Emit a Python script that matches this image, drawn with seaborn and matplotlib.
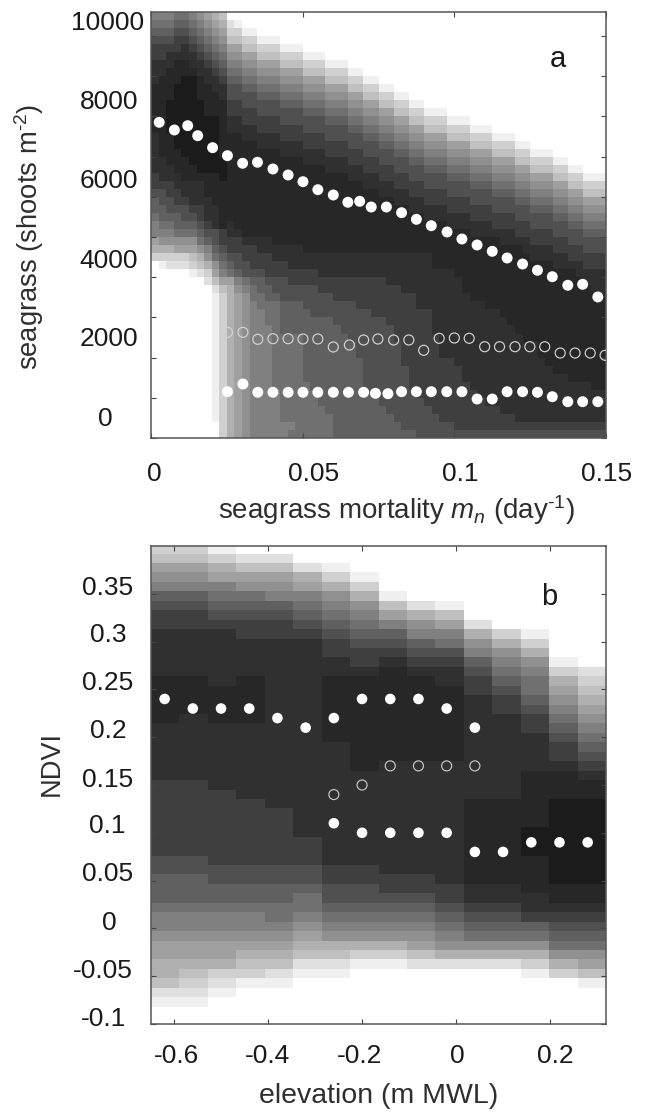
import numpy as np
import matplotlib
matplotlib.use("Agg")
import matplotlib.pyplot as plt
from matplotlib.transforms import ScaledTranslation
import seaborn as sns

# panel a: grey level per cell (0 white .. f darkest), one string per row, top row first
field_a = [
    "8889987654 0000000000 0000000000 0000000000 0000000000 0000000000",
    "999aa98765 2100000000 0000000000 0000000000 0000000000 0000000000",
    "aaabba9876 3311000000 0000000000 0000000000 0000000000 0000000000",
    "bbbccba987 4433111000 0000000000 0000000000 0000000000 0000000000",
    "ccccdcba98 6644333111 0000000000 0000000000 0000000000 0000000000",
    "ccddddcba9 7766444333 1110000000 0000000000 0000000000 0000000000",
    "dddeeddcba 8877666444 3331110000 0000000000 0000000000 0000000000",
    "ddeeeeddcb 9988777666 4443331100 0000000000 0000000000 0000000000",
    "deeeffeddc aa99888777 6664443311 0000000000 0000000000 0000000000",
    "eeefffeedd bbaa999888 7776664433 1100000000 0000000000 0000000000",
    "eeefffeeed bbbbaaa999 8887776644 3311000000 0000000000 0000000000",
    "eefffffeee ccbbbbbaaa 9998887766 4433110000 0000000000 0000000000",
    "eefffffeee ccccbbbbbb aaa9998877 6644331110 0000000000 0000000000",
    "eefffffffe ddcccccbbb bbbaaa9988 7766443331 1100000000 0000000000",
    "eefffffffe ddddcccccc bbbbbbaa99 8877664443 3311100000 0000000000",
    "deeffffffe eedddddccc cccbbbbbaa 9988776664 4433311100 0000000000",
    "deeffffffe eeeedddddd ccccccbbbb aa99887776 6644433311 0000000000",
    "deeefffffe eeeeeeeddd dddcccccbb bbaa998887 7766644433 1110000000",
    "ddeeefffff eeeeeeeeee ddddddcccc bbbbaa9998 8877766644 3331100000",
    "dddeeeffff eeeeeeeeee eeedddddcc ccbbbbaaa9 9988877766 4443311000",
    "cdddeeeeef eeeeeeeeee eeeeeedddd ccccbbbbba aa99988877 6664433111",
    "cccddddeee eeeeeeeeee eeeeeeeedd ddccccbbbb bbaaa99988 7776644333",
    "bbccdddeee eeeeeeeeee eeeeeeeeee ddddcccccb bbbbbaaa99 8887766444",
    "abbccdddee eeeeeeeeee eeeeeeeeee eeddddcccc ccbbbbbbaa 9998877666",
    "aabbbccdde eeeeeeeeee eeeeeeeeee eeeedddddc cccccbbbbb aaa9988777",
    "9aaabbcdde eeeeeeeeee eeeeeeeeee eeeeeedddd ddccccccbb bbbaa99888",
    "899aaabcde deeeeeeeee eeeeeeeeee eeeeeeeeed dddddccccc bbbbbaa999",
    "888999abbc ddeeeeeeee eeeeeeeeee eeeeeeeeee eeddddddcc cccbbbbaaa",
    "6777779abc ccddddeeee eeeeeeeeee eeeeeeeeee eeeeeedddd cccccbbbbb",
    "55566678ab ccccdddddd eeeeeeeeee eeeeeeeeee eeeeeeeeed dddccccbbb",
    "333334579a bbccccdddd dddddddddd dddddddeee eeeeeeeeee dddddccccc",
    "0122234579 abbcccccdd dddddddddd dddddddeee eeeeeeeeee eeeddddccc",
    "0000012368 9abbbccccc ccdddddddd dddddddddd eeeeeeeeee eeeeeedddd",
    "0000000246 689aabbbcc cccccccccc cddddddddd deeeeeeeee eeeeeeeddd",
    "0000000024 5789aabbbb bbcccccccc cccddddddd deeeeeeeee eeeeeeeedd",
    "0000000013 56799aabbb bbbbcccccc cccccddddd ddeeeeeeee eeeeeeeeee",
    "0000000013 5678999aaa bbbbbbbccc cccccddddd ddddeeeeee eeeeeeeeee",
    "0000000013 5678899aaa abbbbbbbbc cccccccddd ddddddeeee eeeeeeeeee",
    "0000000013 5678899aaa aaaabbbbbb bccccccddd dddddddeee eeeeeeeeee",
    "0000000013 5678889aaa aaaaabbbbb bbcccccddd ddddddddee eeeeeeeeee",
    "0000000013 5678889999 aaaaaabbbb bbccccccdd ddddddddde eeeeeeeeee",
    "0000000013 5678889999 aaaaaaabbb bbbcccccdd dddddddddd deeeeeeeee",
    "0000000013 5678889999 aaaaaaabbb bbbcccccdd dddddddddd deeeeeeeee",
    "0000000013 5678889999 aaaaaaaabb bbbccccccc dddddddddd ddeeeeeeee",
    "0000000013 5678889999 aaaaaaaabb bbbbcccccc cddddddddd dddeeeeeee",
    "0000000013 5678889999 aaaaaaaabb bbbbcccccc cddddddddd dddddeeeee",
    "0000000013 5678889999 9aaaaaaabb bbbbcccccc ccdddddddd ddddddddee",
    "0000000013 5678888999 99aaaaaaab bbbbbccccc cccddddddd dddddddddd",
    "0000000013 5678888999 99aaaaaaaa bbbbbbcccc ccccdddddd dddddddddd",
    "0000000013 5678888999 999aaaaaaa abbbbbbccc ccccccdddd dddddddddd",
    "0000000013 5678888999 9999aaaaaa aabbbbbbcc ccccccccdd dddddddddd",
    "0000000003 5678888889 9999aaaaaa aaabbbbbbb cccccccccc cccccccccc",
    "0000000003 5678888899 9999aaaaaa aaaaabbbbb bbbbbbbbbb bbbbbbbbbb",
]

# panel b: same coding, 16 columns
field_b = [
    "3310000000000000", "4432200000000000", "6654421000000000", "7766653100000000",
    "8887765300000000", "aa99887510000000", "bbaaa98742100000", "ccbbba9865400000",
    "cccccba987620000", "dddcccbaa8853100", "ddddddcbba975300", "ddddddcccbb87500",
    "dddddddcdcca8710", "ddddddddeddb9832", "eededdeeeedca953", "eeeeddeeeeecb964",
    "eeeeddeeeeedca75", "eeeeddeeeeedcb86", "edeeddeeeeeddc97", "ddddddeeeeeddca8",
    "ddddddeeeeedddb9", "dddddddeeeedddca", "dddddddeeeedddcb", "dddddddedddddddc",
    "dddddddddddddeed", "ccdddddddddddeee", "cccddddddddddeee", "ccccdddddddeeeff",
    "cccccddddddeeeff", "cccccddddddeeeff", "cccccddddddeefff", "ccccccdddddeefff",
    "ccccccdddddeefff", "bbccccdddddeeeff", "bbbbbbccdddeeeff", "aabbbbccccdeeeff",
    "aaaaaabbcccddeee", "aaaaa9bbbbcdddee", "999999aaaabccddd", "8888989999abbccc",
    "88888788889aaabb", "77777677778999aa", "6666655556777799", "6665544334555577",
    "5554422112222356", "5433211000000134", "4321100000000001", "2210000000000000",
    "1100000000000000", "0000000000000000", "0000000000000000",
]

# grey for each level of the two fields
greys = ["#ffffff", "#f0f0f0", "#e0e0e0", "#d0d0d0", "#c0c0c0", "#b0b0b0", "#a0a0a0", "#909090",
         "#808080", "#707070", "#606060", "#505050", "#3f3f3f", "#303030", "#272727", "#1b1b1b"]

# panel a points
mort_upper = [0.0027, 0.0077, 0.0121, 0.0154, 0.0203, 0.0252, 0.0302, 0.0351, 0.0402, 0.0452, 0.0501,
              0.0550, 0.0601, 0.0649, 0.0688, 0.0726, 0.0776, 0.0826, 0.0875, 0.0924, 0.0976, 0.1025,
              0.1075, 0.1125, 0.1174, 0.1225, 0.1274, 0.1323, 0.1374, 0.1423, 0.1473]
shoots_upper = [7853, 7662, 7769, 7520, 7222, 7023, 6834, 6859, 6692, 6542, 6376,
                6177, 6045, 5864, 5888, 5746, 5746, 5605, 5440, 5281, 5125, 4950,
                4801, 4644, 4478, 4328, 4172, 4012, 3799, 3823, 3508]
mort_open = [0.0252, 0.0303, 0.0352, 0.0402, 0.0452, 0.0501, 0.0550, 0.0601, 0.0654, 0.0701, 0.0748, 0.0800, 0.0850,
             0.0899, 0.0950, 0.1000, 0.1049, 0.1100, 0.1149, 0.1200, 0.1249, 0.1298, 0.1349, 0.1398, 0.1448, 0.1497]
shoots_open = [2629, 2629, 2455, 2470, 2470, 2463, 2463, 2264, 2313, 2438, 2463, 2438, 2438,
               2182, 2480, 2488, 2480, 2271, 2271, 2271, 2271, 2271, 2114, 2114, 2114, 2057]
mort_lower = [0.0252, 0.0303, 0.0352, 0.0402, 0.0452, 0.0501, 0.0550, 0.0601, 0.0651, 0.0701, 0.0740, 0.0781, 0.0826,
              0.0875, 0.0924, 0.0975, 0.1025, 0.1075, 0.1125, 0.1174, 0.1225, 0.1274, 0.1323, 0.1374, 0.1423, 0.1473]
shoots_lower = [1152, 1343, 1137, 1137, 1137, 1137, 1137, 1137, 1137, 1137, 1112, 1102, 1152,
                1152, 1152, 1152, 1152, 970, 970, 1152, 1152, 1137, 1027, 903, 903, 903]

# panel b points
elev_upper = [-0.62, -0.56, -0.50, -0.44, -0.38, -0.32, -0.26, -0.20, -0.14, -0.08, -0.02, 0.04]
ndvi_upper = [0.24, 0.23, 0.23, 0.23, 0.22, 0.21, 0.22, 0.24, 0.24, 0.24, 0.23, 0.21]
elev_open = [-0.26, -0.20, -0.14, -0.08, -0.02, 0.04]
ndvi_open = [0.14, 0.15, 0.17, 0.17, 0.17, 0.17]
elev_lower = [-0.26, -0.20, -0.14, -0.08, -0.02, 0.04, 0.10, 0.16, 0.22, 0.28]
ndvi_lower = [0.11, 0.10, 0.10, 0.10, 0.10, 0.08, 0.08, 0.09, 0.09, 0.09]

xticks_a = [0, 0.05, 0.1, 0.15]
xticklabels_a = ["0", "0.05", "0.1", "0.15"]
yticks_a = [0, 1000, 2000, 3000, 4000, 5000, 6000, 7000, 8000, 9000, 10000]
yticklabels_a = ["0", "", "2000", "", "4000", "", "6000", "", "8000", "", "10000"]
xticks_b = [-0.6, -0.4, -0.2, 0, 0.2]
xticklabels_b = ["-0.6", "-0.4", "-0.2", "0", "0.2"]
yticks_b = [-0.1, -0.05, 0, 0.05, 0.1, 0.15, 0.2, 0.25, 0.3, 0.35]
yticklabels_b = ["-0.1", "-0.05", "0", "0.05", "0.1", "0.15", "0.2", "0.25", "0.3", "0.35"]

W, H = 645, 1112
sns.set_style("white")
plt.rcParams["font.family"] = ["Liberation Sans", "DejaVu Sans"]
plt.rcParams["mathtext.fontset"] = "custom"
plt.rcParams["mathtext.rm"] = "Liberation Sans"
plt.rcParams["mathtext.it"] = "Liberation Sans:italic"
FS = 19
INK = "#1a1a1a"
LABEL = "#2e2e2e"
FRAME = "#555555"

fig = plt.figure(figsize=(W / 100, H / 100), dpi=100, facecolor="white")


def to_matrix(rows):
    return np.array([[int(ch, 16) for ch in r.replace(" ", "")] for r in rows])


def panel(rect, rows, ylim_cells=None):
    # heatmap underneath, real-unit axes on top
    bg = fig.add_axes(rect)
    sns.heatmap(to_matrix(rows), ax=bg, cmap=greys, vmin=-0.5, vmax=15.5, cbar=False,
                xticklabels=False, yticklabels=False)
    if ylim_cells:
        bg.set_ylim(*ylim_cells)
    bg.set_axis_off()
    ax = fig.add_axes(rect, facecolor="none")
    for s in ax.spines.values():
        s.set_visible(True)
        s.set_color(FRAME)
        s.set_linewidth(1.1)
    ax.tick_params(direction="in", length=3.4, width=0.8, color="#444444", top=True, right=True,
                   bottom=True, left=True, labelsize=FS, labelcolor=INK)
    return ax


def dots(ax, x, y, size):
    sns.scatterplot(x=x, y=y, ax=ax, s=size, color="white", edgecolor="none", legend=False, zorder=3)


def rings(ax, x, y, size, col):
    sns.scatterplot(x=x, y=y, ax=ax, s=size, color="none", edgecolor=col, linewidth=0.85, legend=False, zorder=3)


def shift_labels(labels, dx, dy):
    # move each tick label by px, the originals sit off their ticks
    for lab, ox, oy in zip(labels, dx, dy):
        lab.set_transform(lab.get_transform() + ScaledTranslation(ox / 100, oy / 100, fig.dpi_scale_trans))


# panel a
ax_a = panel([151 / W, 1 - 438 / H, 455 / W, 426 / H], field_a)
dots(ax_a, mort_upper, shoots_upper, 62)
dots(ax_a, mort_lower, shoots_lower, 62)
rings(ax_a, mort_open, shoots_open, 52, "#d4d4d4")
ax_a.set_xlim(0, 0.15)
ax_a.set_ylim(0, 10597)
ax_a.set_xticks(xticks_a, xticklabels_a)
ax_a.set_yticks(yticks_a, yticklabels_a)
ax_a.tick_params(axis="x", pad=17)
ax_a.tick_params(axis="y", pad=5)
shift_labels(ax_a.get_yticklabels(), [-31, 0, -6, 0, -6, 0, -6, 0, -6, 0, 0], [21, 0, 21, 0, 19, 0, 18, 0, 17, 0, 15])
shift_labels(ax_a.get_xticklabels(), [3, 11, 6, 1], [0, 0, 0, 0])
fig.text(557.7 / W, 1 - 59 / H, "a", fontsize=21, ha="center", va="center", color=INK)
fig.text(396.5 / W, 1 - 510 / H, r"seagrass mortality $m_n$ (day$^{\text{-}1}$)", fontsize=20, ha="center", va="center", color=LABEL)
fig.text(29 / W, 1 - 237 / H, r"seagrass (shoots m$^{\text{-}2}$)", fontsize=19.7, rotation=90, ha="center", va="center", color=LABEL)

# panel b
ax_b = panel([151 / W, 1 - 1024 / H, 455 / W, 478 / H], field_b, ylim_cells=(50.84, 0.2))
dots(ax_b, elev_upper, ndvi_upper, 58)
dots(ax_b, elev_lower, ndvi_lower, 58)
rings(ax_b, elev_open, ndvi_open, 52, "#c8c8c8")
ax_b.set_xlim(-0.649, 0.319)
ax_b.set_ylim(-0.1, 0.4)
ax_b.set_xticks(xticks_b, xticklabels_b)
ax_b.set_yticks(yticks_b, yticklabels_b)
ax_b.tick_params(axis="x", pad=14.5)
ax_b.tick_params(axis="y", pad=13)
shift_labels(ax_b.get_yticklabels(), [-7, 0, -16, 0, -7, 0, -6, 0, -6, 0], [8, 8, 8, 9, 9, 8, 9, 9, 9, 8])
shift_labels(ax_b.get_xticklabels(), [2, -0.5, -2.5, 1.5, 5.5], [0, 0, 0, 0, 0])
fig.text(549 / W, 1 - 597 / H, "b", fontsize=21, ha="center", va="center", color=INK)
fig.text(379 / W, 1 - 1096 / H, "elevation (m MWL)", fontsize=20.5, ha="center", va="center", color=LABEL)
fig.text(52 / W, 1 - 764 / H, "NDVI", fontsize=19.6, rotation=90, ha="center", va="center", color=LABEL)

fig.savefig("out.png", dpi=100)
